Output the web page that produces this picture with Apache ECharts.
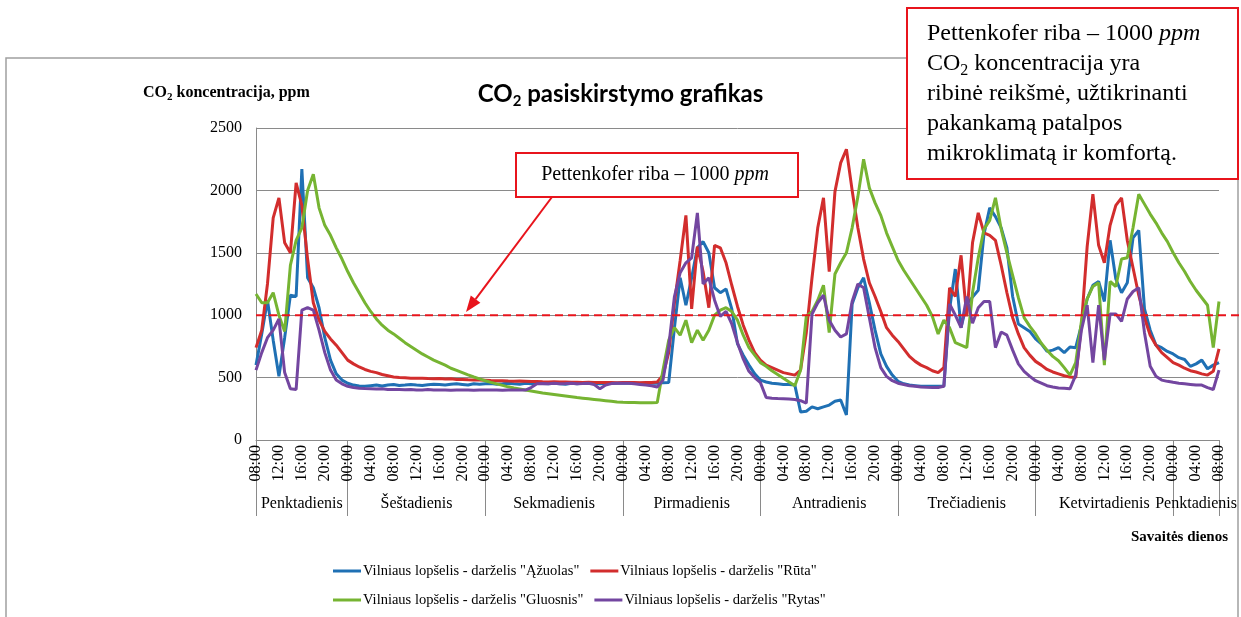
<!DOCTYPE html>
<html lang="lt">
  <head>
    <meta charset="UTF-8" />
    <title>CO2 pasiskirstymo grafikas</title>
    <script src="https://cdn.jsdelivr.net/npm/echarts@6/dist/echarts.min.js"></script>
    <style>
      html,
      body {
        margin: 0;
        padding: 0;
        background: #fff;
      }
      #chart {
        width: 1241px;
        height: 617px;
      }
    </style>
  </head>
  <body>
    <div id="chart"></div>

    <script>
      // valandiniai matavimai: penktadienis 08:00 -> kitas penktadienis 08:00 (indeksas = valandos nuo pradžios)
      var seriesNames = [
        'Vilniaus lopšelis - darželis "Ąžuolas"',
        'Vilniaus lopšelis - darželis "Rūta"',
        'Vilniaus lopšelis - darželis "Gluosnis"',
        'Vilniaus lopšelis - darželis "Rytas"',
      ];
      var seriesColors = ["#1f70b4", "#d22d2d", "#76b432", "#7346a0"];

      var azuolas = [].concat(
        [600, 850, 1120, 800, 510, 820, 1160, 1150, 2170, 1300, 1220, 1060, 820, 640, 530, 480],
        [455, 440, 432, 430, 435, 440, 432, 440, 445, 436, 440, 445, 440, 436, 442, 446, 444, 440, 446, 450, 445, 440, 450, 446],
        [450, 452, 446, 450, 455, 450, 446, 455, 450, 455, 452, 450, 455, 450, 446, 455, 450, 455, 452, 455, 450, 455, 452, 455],
        [455, 455, 455, 455, 455, 455, 455, 458, 460, 900, 1300, 1080, 1300, 1540, 1590, 1500, 1220, 1180, 1210, 1050, 770, 680, 600, 530],
        [480, 465, 455, 450, 445, 445, 440, 225, 230, 265, 250, 265, 280, 310, 320, 200, 1090, 1220, 1300, 1100, 880, 690, 590, 520],
        [470, 450, 440, 435, 430, 430, 430, 430, 430, 1050, 1370, 900, 1090, 1145, 1200, 1650, 1860, 1790, 1700, 1540, 1150, 930, 900, 870],
        [810, 770, 710, 720, 740, 700, 745, 740, 920, 1130, 1240, 1270, 1110, 1600, 1290, 1180, 1260, 1620, 1680, 1050, 880, 760, 740, 710],
        [690, 660, 645, 590, 610, 640, 570, 600, 620]
      );

      var ruta = [].concat(
        [740, 880, 1250, 1780, 1940, 1580, 1500, 2060, 1880, 1450, 1100, 960, 870, 810, 760, 700],
        [640, 610, 585, 565, 550, 540, 525, 515, 505, 500, 498, 495, 495, 495, 492, 490, 492, 488, 490, 485, 485, 482, 480, 480],
        [478, 476, 475, 475, 472, 470, 472, 470, 468, 468, 466, 465, 466, 464, 465, 462, 462, 460, 462, 460, 460, 460, 460, 458],
        [460, 460, 460, 458, 460, 460, 465, 520, 700, 1100, 1440, 1800, 1050, 1550, 1350, 1060, 1560, 1540, 1420, 1240, 1070, 920, 800, 700],
        [640, 600, 580, 560, 540, 530, 520, 560, 860, 1300, 1700, 1940, 1350, 1990, 2220, 2330, 2000, 1700, 1450, 1260, 1150, 1030, 900, 840],
        [790, 730, 670, 630, 600, 580, 555, 540, 580, 1220, 1150, 1480, 990, 1580, 1820, 1660, 1640, 1600, 1400, 1180, 980, 850, 740, 680],
        [630, 600, 565, 545, 530, 515, 505, 500, 920, 1550, 1970, 1560, 1420, 1720, 1880, 1940, 1600, 1380, 1160, 980, 840, 760, 700, 660],
        [620, 600, 575, 555, 545, 530, 520, 550, 730]
      );

      var gluosnis = [].concat(
        [1170, 1100, 1100, 1180, 1000, 870, 1400, 1600, 1700, 2000, 2130, 1860, 1720, 1640, 1540, 1450],
        [1350, 1260, 1180, 1100, 1030, 970, 920, 880, 850, 815, 780, 750, 720, 690, 665, 640, 620, 600, 575, 558, 540, 522, 505, 490],
        [475, 462, 450, 438, 426, 416, 408, 400, 392, 384, 376, 370, 364, 358, 352, 346, 340, 335, 330, 325, 320, 315, 310, 305],
        [302, 300, 300, 298, 298, 298, 300, 560, 800, 900, 840, 960, 780, 880, 800, 880, 1000, 1040, 1060, 1030, 960, 840, 740, 680],
        [620, 590, 555, 525, 495, 465, 435, 560, 990, 1030, 1120, 1240, 860, 1330, 1420, 1500, 1700, 1950, 2250, 2020, 1900, 1800, 1660, 1550],
        [1440, 1360, 1290, 1220, 1150, 1080, 990, 850, 960, 900, 780, 760, 740, 1180, 1460, 1690, 1760, 1940, 1690, 1500, 1320, 1140, 980, 910],
        [850, 775, 720, 670, 635, 580, 520, 620, 950, 1130, 1230, 1260, 600, 1270, 1230, 1450, 1460, 1700, 1970, 1890, 1810, 1740, 1660, 1590],
        [1500, 1420, 1350, 1270, 1200, 1140, 1080, 740, 1110]
      );

      var rytas = [].concat(
        [560, 700, 820, 880, 970, 540, 410, 405, 1040, 1060, 1040, 880, 700, 560, 480, 450],
        [430, 420, 415, 412, 410, 408, 410, 405, 405, 404, 402, 405, 400, 400, 404, 400, 400, 400, 398, 400, 400, 400, 398, 400],
        [400, 400, 400, 398, 400, 400, 400, 400, 420, 450, 452, 450, 455, 450, 452, 455, 450, 452, 455, 445, 410, 440, 452, 455],
        [455, 455, 450, 445, 440, 435, 425, 480, 750, 1150, 1340, 1420, 1460, 1820, 1250, 1300, 1120, 990, 1030, 930, 780, 650, 550, 500],
        [460, 340, 335, 332, 330, 328, 325, 315, 295, 1010, 1100, 1160, 960, 880, 825, 850, 1110, 1250, 1220, 980, 740, 580, 510, 475],
        [455, 445, 435, 430, 425, 422, 420, 420, 430, 1090, 1000, 900, 1150, 936, 1060, 1110, 1110, 740, 865, 840, 720, 610, 550, 510],
        [475, 455, 435, 425, 416, 414, 410, 520, 880, 1080, 620, 1080, 640, 1010, 1010, 950, 1130, 1190, 1220, 860, 590, 510, 480, 470],
        [462, 455, 450, 445, 440, 440, 420, 405, 560]
      );

      // laiko žymos kas 4 valandas
      var timeLabels = [
        "08:00", "12:00", "16:00", "20:00",
        "00:00", "04:00", "08:00", "12:00", "16:00", "20:00",
        "00:00", "04:00", "08:00", "12:00", "16:00", "20:00",
        "00:00", "04:00", "08:00", "12:00", "16:00", "20:00",
        "00:00", "04:00", "08:00", "12:00", "16:00", "20:00",
        "00:00", "04:00", "08:00", "12:00", "16:00", "20:00",
        "00:00", "04:00", "08:00", "12:00", "16:00", "20:00",
        "00:00", "04:00", "08:00",
      ];
      var dayNames = [
        "Penktadienis", "Šeštadienis", "Sekmadienis", "Pirmadienis",
        "Antradienis", "Trečiadienis", "Ketvirtadienis", "Penktadienis",
      ];
      var dayBounds = [0, 16, 40, 64, 88, 112, 136, 160, 168];
      var pettenkofer = 1000;

      var dayMids = [];
      for (var i = 0; i < dayNames.length; i++) {
        dayMids.push((dayBounds[i] + dayBounds[i + 1]) / 2);
      }

      function toPairs(arr) {
        return arr.map(function (v, h) {
          return [h, v];
        });
      }

      var serif = "Liberation Serif";
      var chart = echarts.init(document.getElementById("chart"));

      var option = {
        animation: false,
        backgroundColor: "#fff",
        title: {
          text: "{a|CO}{s|2}{a| pasiskirstymo grafikas}",
          left: "center",
          top: 74,
          textStyle: {
            rich: {
              a: { fontFamily: "Lato", fontWeight: "bold", fontSize: 24, color: "#000", lineHeight: 30 },
              s: { fontFamily: "Lato", fontWeight: "bold", fontSize: 15, color: "#000", lineHeight: 19, verticalAlign: "bottom" },
            },
          },
        },
        legend: {
          left: 333,
          top: 562,
          width: 540,
          padding: 0,
          icon: "rect",
          itemWidth: 28,
          itemHeight: 3,
          itemGap: 11,
          textStyle: { fontFamily: serif, fontSize: 14.5, color: "#000", lineHeight: 18, padding: [0, 0, 0, -3] },
          data: seriesNames,
        },
        grid: { left: 256, right: 22, top: 128, bottom: 177 },
        xAxis: [
          {
            type: "value",
            min: 0,
            max: 168,
            interval: 4,
            position: "bottom",
            axisLine: { lineStyle: { color: "#8a8a8a", width: 1 } },
            axisTick: { show: false },
            splitLine: { show: false },
            axisLabel: {
              rotate: 90,
              margin: 5,
              showMinLabel: true,
              showMaxLabel: true,
              fontFamily: serif,
              fontSize: 16,
              color: "#000",
              formatter: function (v) {
                return timeLabels[Math.round(v / 4)];
              },
            },
          },
          {
            type: "value",
            min: 0,
            max: 168,
            position: "bottom",
            axisLine: { show: false },
            splitLine: { show: false },
            axisTick: {
              show: true,
              length: 76,
              customValues: dayBounds,
              lineStyle: { color: "#8a8a8a", width: 1 },
            },
            axisLabel: {
              margin: 56,
              customValues: dayMids,
              fontFamily: serif,
              fontSize: 16,
              color: "#000",
              formatter: function (v) {
                return dayNames[dayMids.indexOf(v)];
              },
            },
          },
        ],
        yAxis: {
          type: "value",
          min: 0,
          max: 2500,
          interval: 500,
          axisLine: { show: true, lineStyle: { color: "#8a8a8a", width: 1 } },
          axisTick: { show: false },
          splitLine: { lineStyle: { color: "#8a8a8a", width: 1 } },
          axisLabel: {
            margin: 14,
            fontFamily: serif,
            fontSize: 16,
            color: "#000",
            formatter: function (v) {
              return String(v);
            },
          },
        },
        series: [azuolas, ruta, gluosnis, rytas].map(function (arr, k) {
          return {
            name: seriesNames[k],
            type: "line",
            showSymbol: false,
            xAxisIndex: 0,
            color: seriesColors[k],
            lineStyle: { width: 3, color: seriesColors[k] },
            data: toPairs(arr),
          };
        }),
      };

      chart.setOption(option);

      // Pettenkofer ribos linija nuo ašies iki paveikslo krašto
      var yLim = chart.convertToPixel({ yAxisIndex: 0 }, pettenkofer);
      var xFrom = chart.convertToPixel({ xAxisIndex: 0 }, 0);
      var red = "#e8141c";

      chart.setOption({
        graphic: [
          {
            type: "rect",
            z: -1,
            shape: { x: 6, y: 58, width: 1232, height: 600 },
            style: { fill: "none", stroke: "#a0a0a0", lineWidth: 1.5 },
          },
          {
            type: "line",
            z: 50,
            shape: { x1: xFrom, y1: yLim, x2: 1241, y2: yLim },
            style: { stroke: red, lineWidth: 2, lineDash: [8, 5] },
          },
          {
            type: "text",
            x: 143,
            y: 93,
            style: {
              text: "{b|CO}{s|2}{b| koncentracija, ppm}",
              verticalAlign: "middle",
              rich: {
                b: { fontFamily: serif, fontWeight: "bold", fontSize: 16, fill: "#000", lineHeight: 20 },
                s: { fontFamily: serif, fontWeight: "bold", fontSize: 11, fill: "#000", lineHeight: 13, verticalAlign: "bottom" },
              },
            },
          },
          {
            type: "text",
            x: 1228,
            y: 537,
            style: {
              text: "Savaitės dienos",
              align: "right",
              verticalAlign: "middle",
              font: "bold 15px 'Liberation Serif'",
              fill: "#000",
            },
          },
          {
            type: "line",
            z: 60,
            shape: { x1: 552, y1: 197, x2: 475.6, y2: 299.2 },
            style: { stroke: red, lineWidth: 2 },
          },
          {
            type: "polygon",
            z: 60,
            shape: { points: [[466, 312], [480.4, 302.8], [470.8, 295.6]] },
            style: { fill: red },
          },
          {
            type: "rect",
            z: 60,
            shape: { x: 516, y: 153, width: 282, height: 44 },
            style: { fill: "#fff", stroke: red, lineWidth: 2 },
          },
          {
            type: "text",
            z: 61,
            x: 655,
            y: 175,
            style: {
              text: "{n|Pettenkofer riba – 1000 }{i|ppm}",
              align: "center",
              verticalAlign: "middle",
              rich: {
                n: { fontFamily: serif, fontSize: 20, fill: "#000" },
                i: { fontFamily: serif, fontSize: 20, fontStyle: "italic", fill: "#000" },
              },
            },
          },
          {
            type: "rect",
            z: 60,
            shape: { x: 907, y: 8, width: 331, height: 171 },
            style: { fill: "#fff", stroke: red, lineWidth: 2 },
          },
          {
            type: "text",
            z: 61,
            x: 927,
            y: 19,
            style: {
              text:
                "{n|Pettenkofer riba – 1000 }{i|ppm}\n" +
                "{n|CO}{s|2}{n| koncentracija yra}\n" +
                "{n|ribinė reikšmė, užtikrinanti}\n" +
                "{n|pakankamą patalpos}\n" +
                "{n|mikroklimatą ir komfortą.}",
              rich: {
                n: { fontFamily: serif, fontSize: 24, fill: "#000", lineHeight: 30 },
                i: { fontFamily: serif, fontSize: 24, fontStyle: "italic", fill: "#000", lineHeight: 30 },
                s: { fontFamily: serif, fontSize: 16, fill: "#000", lineHeight: 19, verticalAlign: "bottom" },
              },
            },
          },
        ],
      });
    </script>
  </body>
</html>
